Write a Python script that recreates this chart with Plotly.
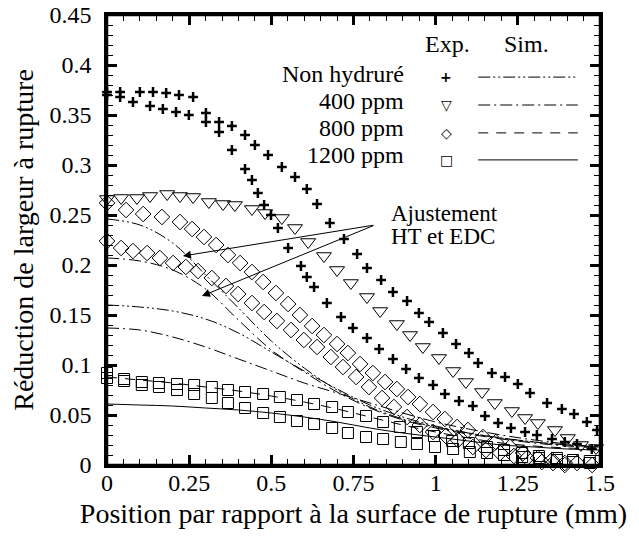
import plotly.graph_objects as go

# Experimental data (position in mm, width reduction)
nh1_x = [0.000, 0.040, 0.100, 0.140, 0.180, 0.219, 0.262, 0.301, 0.341, 0.380, 0.420, 0.450, 0.490,
         0.532, 0.572, 0.608, 0.639, 0.678, 0.721, 0.761, 0.791, 0.834, 0.870, 0.913, 0.949, 0.980,
         1.022, 1.062, 1.101, 1.129, 1.171, 1.211, 1.250, 1.287, 1.339, 1.384, 1.421, 1.460, 1.491]
nh1_y = [0.373, 0.373, 0.373, 0.373, 0.372, 0.370, 0.368, 0.352, 0.343, 0.339, 0.330, 0.320, 0.310,
         0.298, 0.288, 0.276, 0.261, 0.242, 0.226, 0.211, 0.197, 0.185, 0.173, 0.164, 0.152, 0.143,
         0.132, 0.121, 0.112, 0.102, 0.092, 0.088, 0.081, 0.072, 0.062, 0.056, 0.051, 0.043, 0.035]

nh2_x = [0.000, 0.040, 0.079, 0.131, 0.170, 0.210, 0.249, 0.301, 0.341, 0.380, 0.420, 0.441, 0.459,
         0.478, 0.499, 0.520, 0.551, 0.590, 0.608, 0.630, 0.669, 0.712, 0.748, 0.791, 0.828, 0.870,
         0.910, 0.949, 0.992, 1.028, 1.071, 1.113, 1.150, 1.190, 1.229, 1.272, 1.308, 1.354, 1.393,
         1.430, 1.475]
nh2_y = [0.370, 0.368, 0.363, 0.359, 0.356, 0.353, 0.350, 0.343, 0.333, 0.315, 0.296, 0.285, 0.272,
         0.260, 0.250, 0.237, 0.217, 0.199, 0.188, 0.178, 0.162, 0.148, 0.137, 0.127, 0.116, 0.106,
         0.096, 0.087, 0.080, 0.071, 0.064, 0.059, 0.049, 0.042, 0.037, 0.033, 0.030, 0.026, 0.023,
         0.021, 0.016]

h400_x = [0.000, 0.043, 0.091, 0.131, 0.183, 0.222, 0.262, 0.310, 0.353, 0.389, 0.441, 0.481, 0.532,
          0.572, 0.612, 0.660, 0.700, 0.742, 0.791, 0.831, 0.882, 0.922, 0.961, 1.010, 1.053, 1.092,
          1.141, 1.180, 1.232, 1.272, 1.311, 1.363, 1.402, 1.442, 1.488]
h400_y = [0.266, 0.267, 0.267, 0.269, 0.271, 0.269, 0.268, 0.263, 0.261, 0.260, 0.256, 0.252, 0.247,
          0.237, 0.223, 0.209, 0.195, 0.182, 0.168, 0.154, 0.141, 0.130, 0.118, 0.107, 0.094, 0.083,
          0.073, 0.062, 0.054, 0.047, 0.042, 0.035, 0.027, 0.020, 0.017]

h800a_x = [0.000, 0.058, 0.110, 0.167, 0.222, 0.259, 0.295, 0.332, 0.368, 0.405, 0.441, 0.475, 0.514,
           0.551, 0.587, 0.624, 0.660, 0.700, 0.733, 0.770, 0.809, 0.846, 0.882, 0.916, 0.952, 0.992,
           1.028, 1.065, 1.098, 1.144, 1.183, 1.226, 1.266, 1.311, 1.354, 1.393, 1.430, 1.476]
h800a_y = [0.262, 0.255, 0.251, 0.248, 0.243, 0.236, 0.228, 0.220, 0.210, 0.202, 0.193, 0.183, 0.172,
           0.161, 0.150, 0.139, 0.130, 0.121, 0.112, 0.101, 0.092, 0.083, 0.076, 0.068, 0.061, 0.053,
           0.046, 0.038, 0.035, 0.028, 0.023, 0.018, 0.012, 0.007, 0.005, 0.002, 0.002, 0.000]

h800b_x = [0.000, 0.043, 0.079, 0.122, 0.161, 0.201, 0.240, 0.277, 0.319, 0.362, 0.399, 0.441, 0.478,
           0.517, 0.560, 0.599, 0.639, 0.681, 0.718, 0.758, 0.797, 0.837, 0.873, 0.913, 0.952, 0.992,
           1.031, 1.068, 1.113, 1.153, 1.196, 1.238, 1.278, 1.323, 1.357, 1.393]
h800b_y = [0.224, 0.217, 0.214, 0.212, 0.207, 0.202, 0.198, 0.194, 0.187, 0.179, 0.171, 0.162, 0.153,
           0.144, 0.135, 0.125, 0.118, 0.108, 0.098, 0.088, 0.078, 0.067, 0.058, 0.048, 0.040, 0.033,
           0.029, 0.025, 0.018, 0.015, 0.012, 0.009, 0.007, 0.003, 0.002, 0.000]

h1200a_x = [0.000, 0.052, 0.106, 0.158, 0.213, 0.265, 0.319, 0.368, 0.420, 0.475, 0.526, 0.578, 0.630,
            0.685, 0.733, 0.788, 0.840, 0.891, 0.943, 0.995, 1.050, 1.101, 1.156, 1.208, 1.263, 1.314,
            1.369, 1.418, 1.469]
h1200a_y = [0.092, 0.086, 0.083, 0.082, 0.081, 0.080, 0.078, 0.075, 0.073, 0.071, 0.068, 0.065, 0.061,
            0.058, 0.053, 0.049, 0.043, 0.038, 0.033, 0.029, 0.024, 0.022, 0.018, 0.015, 0.012, 0.009,
            0.007, 0.005, 0.004]

h1200b_x = [0.000, 0.052, 0.106, 0.158, 0.213, 0.265, 0.319, 0.368, 0.420, 0.475, 0.526, 0.578, 0.630,
            0.685, 0.733, 0.788, 0.840, 0.894, 0.943, 0.998, 1.053, 1.104, 1.156, 1.208, 1.263, 1.314,
            1.369, 1.418, 1.469]
h1200b_y = [0.087, 0.084, 0.080, 0.078, 0.075, 0.071, 0.067, 0.062, 0.057, 0.052, 0.048, 0.044, 0.041,
            0.037, 0.032, 0.028, 0.026, 0.023, 0.021, 0.018, 0.016, 0.013, 0.012, 0.010, 0.008, 0.007,
            0.005, 0.003, 0.002]

# Simulations
sim_x = [0.0, 0.1, 0.2, 0.3, 0.4, 0.5, 0.6, 0.7, 0.8, 0.9, 1.0, 1.1, 1.2, 1.3, 1.4, 1.5]
sim_nh_fit = [0.246, 0.240, 0.222, 0.190, 0.157, 0.124, 0.097, 0.075, 0.058, 0.046, 0.038, 0.032,
              0.027, 0.023, 0.020, 0.018]
sim_400_fit = [0.207, 0.204, 0.195, 0.176, 0.145, 0.115, 0.093, 0.073, 0.057, 0.045, 0.037, 0.031,
               0.026, 0.022, 0.019, 0.017]
sim_nh = [0.160, 0.158, 0.154, 0.146, 0.132, 0.113, 0.094, 0.076, 0.060, 0.048, 0.039, 0.032,
          0.027, 0.023, 0.020, 0.018]
sim_400 = [0.137, 0.135, 0.128, 0.118, 0.106, 0.094, 0.082, 0.072, 0.062, 0.052, 0.043, 0.036,
           0.030, 0.025, 0.021, 0.018]
sim_800 = [0.088, 0.085, 0.082, 0.078, 0.074, 0.069, 0.063, 0.056, 0.048, 0.040, 0.033, 0.027,
           0.022, 0.019, 0.017, 0.016]
sim_1200 = [0.061, 0.060, 0.059, 0.057, 0.055, 0.052, 0.048, 0.043, 0.037, 0.032, 0.028, 0.024,
            0.020, 0.018, 0.016, 0.015]

legend_labels = ["Non hydruré", "400 ppm", "800 ppm", "1200 ppm"]
legend_glyphs = ["<b>+</b>", "▽", "◇", "□"]

FONT = "Liberation Serif"
DASH_NH = "12px,3px,2px,3px,2px,3px"
DASH_400 = "12px,4px,2px,4px"
DASH_800 = "10px,8px"


def txt(size, family=FONT):
    return dict(family=family, size=size, color="black")


def note(text, x, y, size=24, xanchor="center", family=FONT):
    fig.add_annotation(text=text, x=x, y=y, xref="paper", yref="paper", showarrow=False,
                       xanchor=xanchor, yanchor="middle", font=txt(size, family))


fig = go.Figure()

# simulation curves (the last one sits on the top/right axes so they get drawn)
for ys, dash in [(sim_nh_fit, DASH_NH), (sim_400_fit, DASH_400), (sim_nh, DASH_NH),
                 (sim_400, DASH_400), (sim_800, DASH_800)]:
    fig.add_trace(go.Scatter(x=sim_x, y=ys, mode="lines", line_shape="spline",
                             line=dict(color="black", width=1, dash=dash), showlegend=False))
fig.add_trace(go.Scatter(x=sim_x, y=sim_1200, mode="lines", line_shape="spline", xaxis="x2", yaxis="y2",
                         line=dict(color="black", width=1), showlegend=False))

# experimental points
cross = dict(symbol="cross-thin-open", size=7, color="black", line=dict(color="black", width=2.5))
tri = dict(symbol="triangle-down-open", size=13, color="black", line=dict(color="black", width=1))
dia = dict(symbol="diamond-open", size=12, color="black", line=dict(color="black", width=1))
sq = dict(symbol="square-open", size=11, color="black", line=dict(color="black", width=1))

for xs, ys, mk in [(nh1_x, nh1_y, cross), (nh2_x, nh2_y, cross), (h400_x, h400_y, tri),
                   (h800a_x, h800a_y, dia), (h800b_x, h800b_y, dia),
                   (h1200a_x, h1200a_y, sq), (h1200b_x, h1200b_y, sq)]:
    fig.add_trace(go.Scatter(x=xs, y=ys, mode="markers", marker=mk, showlegend=False, cliponaxis=False))

# hand made legend
note("Exp.", 0.690, 0.935)
note("Sim.", 0.850, 0.935)
row_y = [0.869, 0.809, 0.749, 0.689]
line_y = [0.862, 0.800, 0.738, 0.678]
dashes = [DASH_NH, DASH_400, DASH_800, "solid"]
for lab, g, ty, ly, d in zip(legend_labels, legend_glyphs, row_y, line_y, dashes):
    note(lab, 0.606, ty, xanchor="right")
    note(g, 0.688, ly, size=14, family="DejaVu Sans")
    fig.add_shape(type="line", xref="paper", yref="paper", x0=0.753, x1=0.955, y0=ly, y1=ly,
                  line=dict(color="black", width=1, dash=d))

# "Ajustement" arrows
note("Ajustement", 0.572, 0.559, size=23, xanchor="left")
note("HT et EDC", 0.572, 0.507, size=23, xanchor="left")
for tx, ty in [(0.231, 0.209), (0.289, 0.169)]:
    fig.add_annotation(text="", x=tx, y=ty, ax=0.815, ay=0.240, axref="x", ayref="y",
                       showarrow=True, arrowhead=2, arrowsize=1.6, arrowwidth=1, arrowcolor="black")

# frame
fig.add_shape(type="rect", xref="paper", yref="paper", x0=0, x1=1, y0=0, y1=1, layer="above",
              line=dict(color="black", width=2.5))

axis_common = dict(showgrid=False, zeroline=False, showline=True, linecolor="black", linewidth=2.5,
                   mirror="ticks", ticks="inside", ticklen=10, tickwidth=2.5, tickcolor="black",
                   tickfont=txt(24), automargin=False, ticklabeloverflow="allow")
x_minor = dict(dtick=0.05, ticks="inside", ticklen=6, tickwidth=1, tickcolor="black")
y_minor = dict(dtick=0.01, ticks="inside", ticklen=6, tickwidth=1, tickcolor="black")
mirror_axis = dict(showgrid=False, zeroline=False, showline=True, linecolor="black", linewidth=2.5,
                   ticks="inside", ticklen=10, tickwidth=2.5, tickcolor="black",
                   showticklabels=False, automargin=False)

# the page body adds an 8px offset, margins compensate for it
fig.update_layout(
    width=639, height=537,
    margin=dict(l=99, r=47, t=7, b=80),
    paper_bgcolor="white", plot_bgcolor="white",
    font=txt(20),
    xaxis=dict(range=[0, 1.5], dtick=0.25, tick0=0, ticklabelstandoff=-6, minor=x_minor,
               title=dict(text="Position par rapport à la surface de rupture (mm)", standoff=9,
                          font=txt(28)),
               **axis_common),
    yaxis=dict(range=[0, 0.45], dtick=0.05, tick0=0, ticklabelstandoff=8, minor=y_minor,
               title=dict(text="Réduction de largeur à rupture", standoff=8, font=txt(28)),
               **axis_common),
    xaxis2=dict(range=[0, 1.5], dtick=0.25, tick0=0, overlaying="x", side="top", anchor="y2",
                minor=x_minor, **mirror_axis),
    yaxis2=dict(range=[0, 0.45], dtick=0.05, tick0=0, overlaying="y", side="right", anchor="x2",
                minor=y_minor, **mirror_axis),
)

fig.write_html("out.html")
